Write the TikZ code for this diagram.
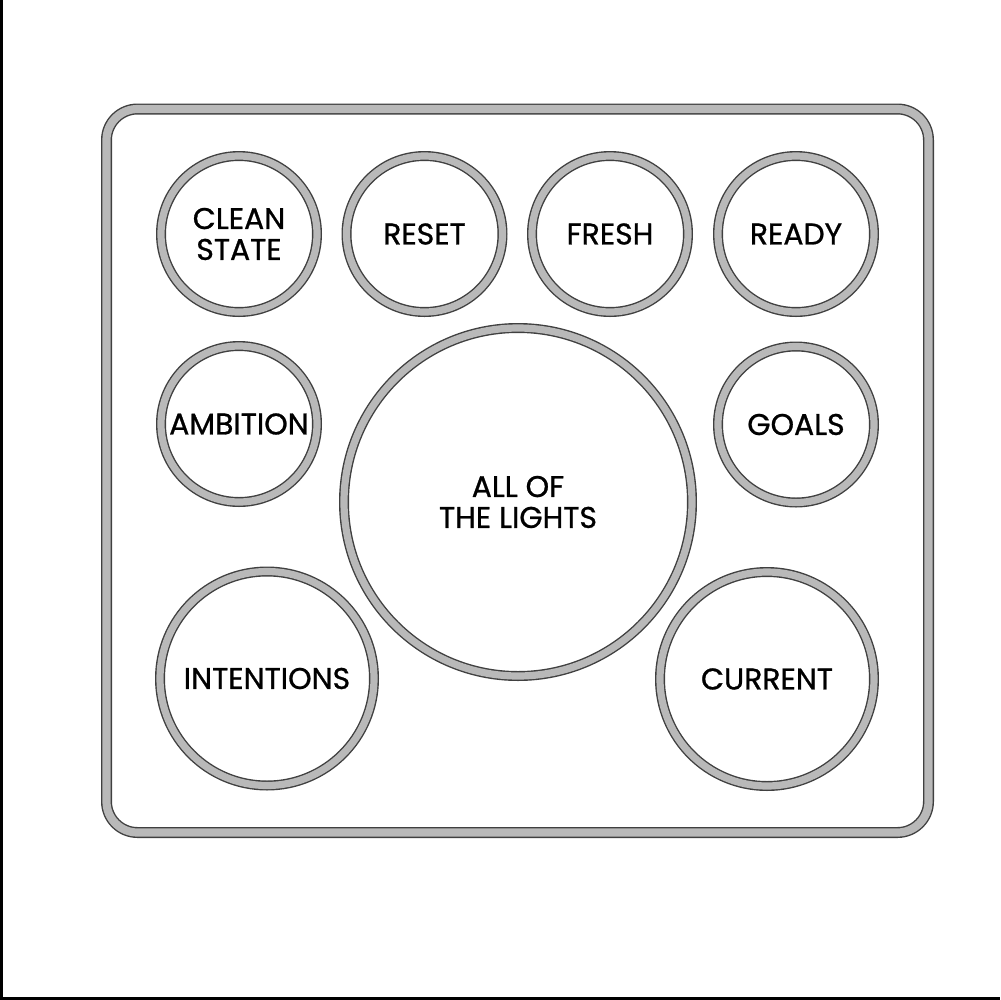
\documentclass[tikz,border=0pt]{standalone}
\usepackage{fontspec}
\setmainfont{Poppins}[FakeBold=0.9]
\begin{document}
\begin{tikzpicture}[x=0.1mm, y=-0.1mm,
    ring/.style={circle, draw=black!75, line width=0.14mm, double=gray!55,
      double distance=0.72mm, inner sep=0pt, minimum size=#1, align=center,
      font=\fontsize{8.5pt}{8.8pt}\selectfont},
    ring/.default=15.6mm
    ]
    \useasboundingbox (0,0) rectangle (1000,1000);
    \draw[black, line width=0.3mm] (1.5,0) -- (1.5,998.5) -- (1000,998.5);
    \draw[draw=black!75, line width=0.14mm, double=gray!55, double distance=0.82mm,
      rounded corners=3.1mm] (106.5,109) rectangle (928.5,832.5);
    \node[ring] (clean) at (239,234) {CLEAN\\STATE};
    \node[ring] (reset) at (424.5,234) {RESET};
    \node[ring] (fresh) at (610,234) {FRESH};
    \node[ring] (ready) at (796,234) {READY};
    \node[ring] (ambition) at (239,424) {AMBITION};
    \node[ring] (goals) at (796,424.5) {GOALS};
    \node[ring=34.8mm] (lights) at (518,502) {ALL OF\\THE LIGHTS};
    \node[ring=21.4mm] (intentions) at (267,678.5) {INTENTIONS};
    \node[ring=21.4mm] (current) at (767,679) {CURRENT};
  \end{tikzpicture}
\end{document}
